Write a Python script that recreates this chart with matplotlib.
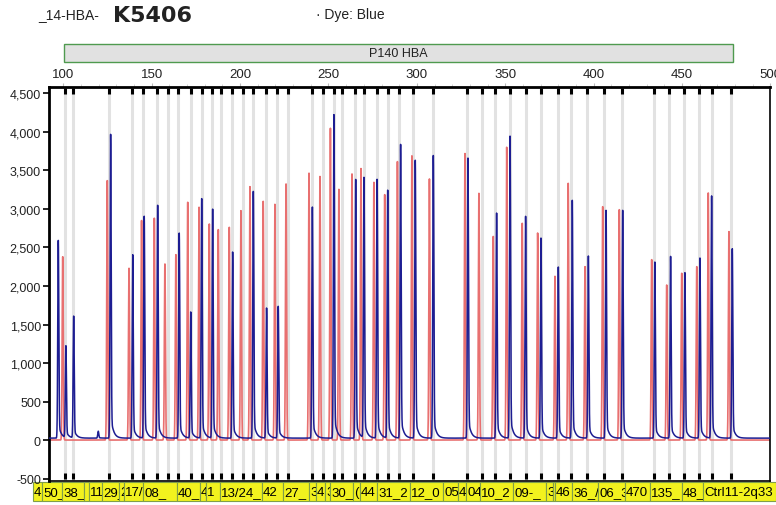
import matplotlib
matplotlib.use("Agg")
import matplotlib.pyplot as plt
import matplotlib.transforms as mtransforms
from matplotlib.patches import Rectangle
from matplotlib.ticker import FuncFormatter, MultipleLocator
import numpy as np

# header
sample_prefix = "_14-HBA-"
sample_name = "K5406"
dye_text = "· Dye: Blue"
probemix = "P140 HBA"

# peaks (size in bp, height in RFU)
blue_pos = [97.2, 101.5, 105.9, 119.8, 126.8, 139.3, 145.8, 153.4, 165.6, 172.1,
            178.3, 184.5, 195.8, 207.5, 215.0, 221.6, 240.9, 253.1, 265.4, 270.1,
            277.5, 283.5, 290.8, 299.1, 309.3, 328.9, 345.1, 352.7, 361.5, 370.2,
            380.0, 387.9, 397.0, 407.0, 416.4, 434.6, 443.5, 451.6, 460.1, 466.7,
            478.4]
blue_height = [2567, 1190, 1580, 90, 3944, 2381, 2879, 3022, 2662, 1636,
               3108, 2970, 2416, 3203, 1688, 1710, 3000, 4200, 3359, 3377,
               3359, 3216, 3812, 3607, 3669, 3636, 2922, 3920, 2879, 2597,
               2221, 3087, 2364, 2957, 2957, 2286, 2359, 2147, 2338, 3143,
               2459]

red_pos = [99.7, 124.9, 137.2, 144.3, 151.5, 157.5, 163.7, 170.4, 176.8, 182.6,
           187.7, 193.9, 200.5, 205.6, 213.1, 219.7, 226.0, 239.0, 245.2, 251.1,
           255.9, 263.3, 268.4, 275.7, 281.8, 289.0, 297.2, 307.1, 327.2, 335.1,
           343.2, 350.8, 359.6, 368.3, 378.1, 385.6, 395.1, 405.1, 414.5, 432.8,
           441.3, 449.8, 458.3, 464.8, 476.5]
red_height = [2380, 3368, 2230, 2850, 2880, 2286, 2407, 3087, 3022, 2805,
              2732, 2762, 2978, 3290, 3099, 3060, 3325, 3465, 3422, 4048,
              3255, 3455, 3525, 3346, 3186, 3615, 3690, 3390, 3720, 3203,
              2643, 3801, 2814, 2688, 2126, 3333, 2251, 3030, 2991, 2342,
              2013, 2165, 2251, 3208, 2706]

# probe bins
bin_pos = [101.0, 105.7, 126.0, 139.0, 145.2, 153.2, 159.4, 165.0, 172.1, 178.3,
           183.9, 189.0, 195.2, 201.8, 207.5, 214.5, 221.0, 227.3, 240.8, 246.7,
           253.1, 257.8, 265.0, 270.2, 277.3, 283.8, 289.9, 298.0, 309.3, 328.2,
           337.0, 344.2, 352.7, 361.5, 370.2, 379.6, 387.2, 396.0, 405.8, 415.8,
           434.1, 442.8, 451.2, 459.7, 466.7, 477.5]

# probe label boxes (text as shown, left edge in bp)
label_text = ["4", "50_", "38_", "", "11", "29_", "2", "17/", "08_", "40_",
              "4", "1", "13/24_", "42", "27_", "3", "4", "3", "30_", "(",
              "44", "31_2", "12_0", "05", "4", "04", "10_2", "09-_", "3", "2",
              "46", "36_/", "06_3", "470", "135_", "48_", "Ctrl11-2q33"]
label_left = [82.9, 88.0, 99.3, 111.7, 114.5, 121.9, 131.5, 134.3, 145.1, 164.3,
              177.3, 180.7, 188.6, 212.4, 224.3, 239.0, 243.0, 248.0, 250.9, 263.9,
              267.8, 277.5, 296.2, 314.8, 323.3, 327.8, 335.8, 354.4, 373.1, 377.0,
              378.1, 387.8, 402.5, 417.7, 431.9, 450.0, 461.8]
label_end = 503.1

x_ticks = [100, 150, 200, 250, 300, 350, 400, 450, 500]
y_ticks = [-500, 0, 500, 1000, 1500, 2000, 2500, 3000, 3500, 4000, 4500]

BLUE = "#1d1d92"
RED = "#e87070"
FONT = ["Liberation Sans", "DejaVu Sans"]
plt.rcParams["font.family"] = FONT

xs = np.arange(92.0, 500.0, 0.02)


def build_trace(pos, height, tail, base):
    y = np.full_like(xs, base)
    for p, h in zip(pos, height):
        d = xs - p
        y += h * np.exp(-0.5 * (d / 0.3) ** 2)
        after = d > 0
        da = d[after]
        onset = 1 - np.exp(-0.5 * (da / 0.45) ** 2)
        y[after] += tail * h * np.exp(-da / 1.4) * onset
    return y


fig = plt.figure(figsize=(7.76, 5.06), dpi=100)
ax = fig.add_axes([0.0635, 0.048, 0.9294, 0.7775])

for b in bin_pos:
    ax.axvline(b, color="#e2e2e2", lw=2.2, zorder=1)

ax.plot(xs, build_trace(red_pos, red_height, 0.0, 0.0), color=RED, lw=1.2, zorder=2)
ax.plot(xs, build_trace(blue_pos, blue_height, 0.08, 25.0), color=BLUE, lw=1.1, zorder=3)

# bin markers at top and bottom
mk = mtransforms.blended_transform_factory(ax.transData, ax.transAxes)
for b in bin_pos:
    ax.plot([b, b], [0.983, 0.998], color="black", lw=2.2, transform=mk,
            solid_capstyle="butt", zorder=4, clip_on=False)
    ax.plot([b, b], [0.005, 0.02], color="black", lw=2.2, transform=mk,
            solid_capstyle="butt", zorder=4, clip_on=False)

ax.set_xlim(92.1, 500)
ax.set_ylim(-528, 4580)
ax.set_xticks(x_ticks)
ax.xaxis.set_minor_locator(MultipleLocator(10))
ax.set_yticks(y_ticks)
ax.yaxis.set_major_formatter(FuncFormatter(lambda v, p: format(int(v), ",")))
ax.xaxis.tick_top()
ax.tick_params(axis="x", which="major", length=3, color="#bbbbbb", labelsize=9.5,
               pad=2, labelcolor="#222222")
ax.tick_params(axis="x", which="minor", length=2, color="#cccccc")
ax.tick_params(axis="y", length=4, width=1.2, labelsize=9, pad=2, labelcolor="#222222")
ax.spines["top"].set_linewidth(2)
ax.spines["left"].set_linewidth(2)
ax.spines["right"].set_linewidth(1.2)
ax.spines["bottom"].set_linewidth(1.2)

# probe label row
for i, txt in enumerate(label_text):
    left = label_left[i]
    right = label_left[i + 1] if i + 1 < len(label_left) else label_end
    rect = Rectangle((left, -0.0516), right - left, 0.048, transform=mk,
                     facecolor="#f2f21e", edgecolor="#7f9f4a", lw=0.8, clip_on=False)
    ax.add_patch(rect)
    t = ax.text(left + 0.6, -0.028, txt, transform=mk, fontsize=9.5, ha="left",
                va="center", color="black", clip_on=True)
    t.set_clip_path(rect)

# header texts
fig.text(0.049, 0.970, sample_prefix, fontsize=10, color="#222222", va="center")
fig.text(0.145, 0.968, sample_name, fontsize=16, fontweight="bold",
         family=["DejaVu Sans"], color="#222222", va="center")
fig.text(0.407, 0.970, dye_text, fontsize=10, color="#222222", va="center")

bar = Rectangle((0.0825, 0.8755), 0.862, 0.0355, transform=fig.transFigure,
                facecolor="#e1e1e1", edgecolor="#4f9a4f", lw=1.0)
fig.patches.append(bar)
fig.text(0.513, 0.8935, probemix, fontsize=9, ha="center", va="center", color="#222222")

fig.savefig("out.png", dpi=100)
